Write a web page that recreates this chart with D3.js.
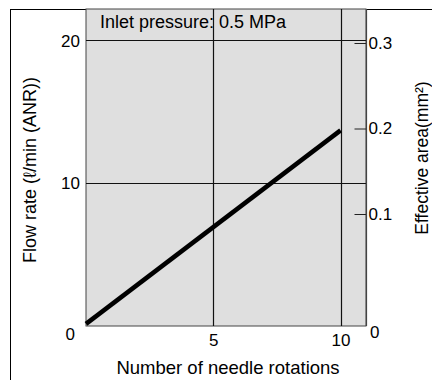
<!DOCTYPE html>
<html>
<head>
<meta charset="utf-8">
<script src="https://cdn.jsdelivr.net/npm/d3@7"></script>
<style>
  body { margin: 0; background: #fff; }
  text { font-family: "Liberation Sans", Arial, sans-serif; fill: #000; }
</style>
</head>
<body>
<script>
// data
const rotations = [0, 10];
const flowRate = [0.15, 13.7];
const leftTicks = [0, 10, 20];
const bottomTicks = [5, 10];
const rightTicks = [0.1, 0.2, 0.3];
const gridFlow = [10, 20];
const gridRot = [5, 10];

const w = 432;
const h = 380;

const svg = d3.select("body").append("svg").attr("width", w).attr("height", h);

const x = d3.scaleLinear().domain([0, 11]).range([86, 366]);
const y = d3.scaleLinear().domain([0, 22.2]).range([326, 9]);
// right axis of the original is not evenly spaced down to 0
const yR = d3.scaleLinear().domain([0, 0.1, 0.3]).range([326, 214, 43]);

// outer frame (runs off the page right and bottom)
svg.append("rect")
  .attr("x", 10.5).attr("y", 9.5)
  .attr("width", 440).attr("height", 400)
  .attr("fill", "none").attr("stroke", "#000").attr("stroke-width", 1);

// plot background
svg.append("rect")
  .attr("x", x(0)).attr("y", y(22.2))
  .attr("width", x(11) - x(0)).attr("height", y(0) - y(22.2))
  .attr("fill", "#dfdfdf")
  .attr("stroke", "#444").attr("stroke-width", 1);

// grid
svg.selectAll(".hg").data(gridFlow).enter().append("line")
  .attr("x1", x(0)).attr("x2", x(11))
  .attr("y1", d => Math.round(y(d)) + 0.5).attr("y2", d => Math.round(y(d)) + 0.5)
  .attr("stroke", "#111").attr("stroke-width", 1.2);
svg.selectAll(".vg").data(gridRot).enter().append("line")
  .attr("y1", y(22.2)).attr("y2", y(0))
  .attr("x1", d => Math.round(x(d)) + 0.5).attr("x2", d => Math.round(x(d)) + 0.5)
  .attr("stroke", "#111").attr("stroke-width", 1.2);

// inlet pressure note
svg.append("text")
  .attr("x", 100).attr("y", 28)
  .attr("font-size", "18px")
  .text("Inlet pressure: 0.5 MPa");

// left axis labels
svg.selectAll(".yl").data(leftTicks).enter().append("text")
  .attr("x", d => d === 0 ? 75 : 80)
  .attr("y", d => y(d))
  .attr("dy", d => d === 0 ? "0.8em" : "0.36em")
  .attr("text-anchor", "end")
  .attr("font-size", "17px")
  .text(d => d);

// bottom axis
const xAxis = d3.axisBottom(x).tickValues(bottomTicks).tickSize(0).tickPadding(8);
svg.append("g").attr("transform", `translate(0,${y(0)})`).call(xAxis)
  .call(g => g.select(".domain").remove())
  .call(g => g.selectAll("text").attr("font-size", "17px").attr("font-family", null).attr("fill", "#000"));

// right axis
const yAxisR = d3.axisLeft(yR).tickValues(rightTicks).tickSize(12).tickFormat(d3.format(".1f"));
svg.append("g").attr("transform", `translate(${x(11) + 0.5},0)`).call(yAxisR)
  .call(g => g.select(".domain").remove())
  .call(g => g.selectAll("line").attr("stroke", "#222"))
  .call(g => g.selectAll("text")
    .attr("x", 2).attr("text-anchor", "start")
    .attr("font-size", "17px").attr("font-family", null).attr("fill", "#000"));
svg.append("line")
  .attr("x1", x(11) + 0.5).attr("x2", x(11) + 0.5)
  .attr("y1", y(22.2)).attr("y2", y(0))
  .attr("stroke", "#444").attr("stroke-width", 1.2);
svg.append("text")
  .attr("x", 370).attr("y", yR(0))
  .attr("dy", "0.7em")
  .attr("font-size", "17px")
  .text("0");

// flow line
const pts = rotations.map((r, i) => [r, flowRate[i]]);
svg.append("path")
  .datum(pts)
  .attr("d", d3.line().x(d => x(d[0])).y(d => y(d[1])))
  .attr("fill", "none").attr("stroke", "#000").attr("stroke-width", 4.5);

// axis titles
svg.append("text")
  .attr("x", 228).attr("y", 374)
  .attr("text-anchor", "middle")
  .attr("font-size", "18.5px")
  .text("Number of needle rotations");

svg.append("text")
  .attr("transform", "translate(30,170) rotate(-90)")
  .attr("text-anchor", "middle")
  .attr("dominant-baseline", "central")
  .attr("font-size", "18px")
  .text("Flow rate (ℓ/min (ANR))");

svg.append("text")
  .attr("transform", "translate(422,158) rotate(-90)")
  .attr("text-anchor", "middle")
  .attr("dominant-baseline", "central")
  .attr("font-size", "17.5px")
  .text("Effective area(mm²)");
</script>
</body>
</html>
